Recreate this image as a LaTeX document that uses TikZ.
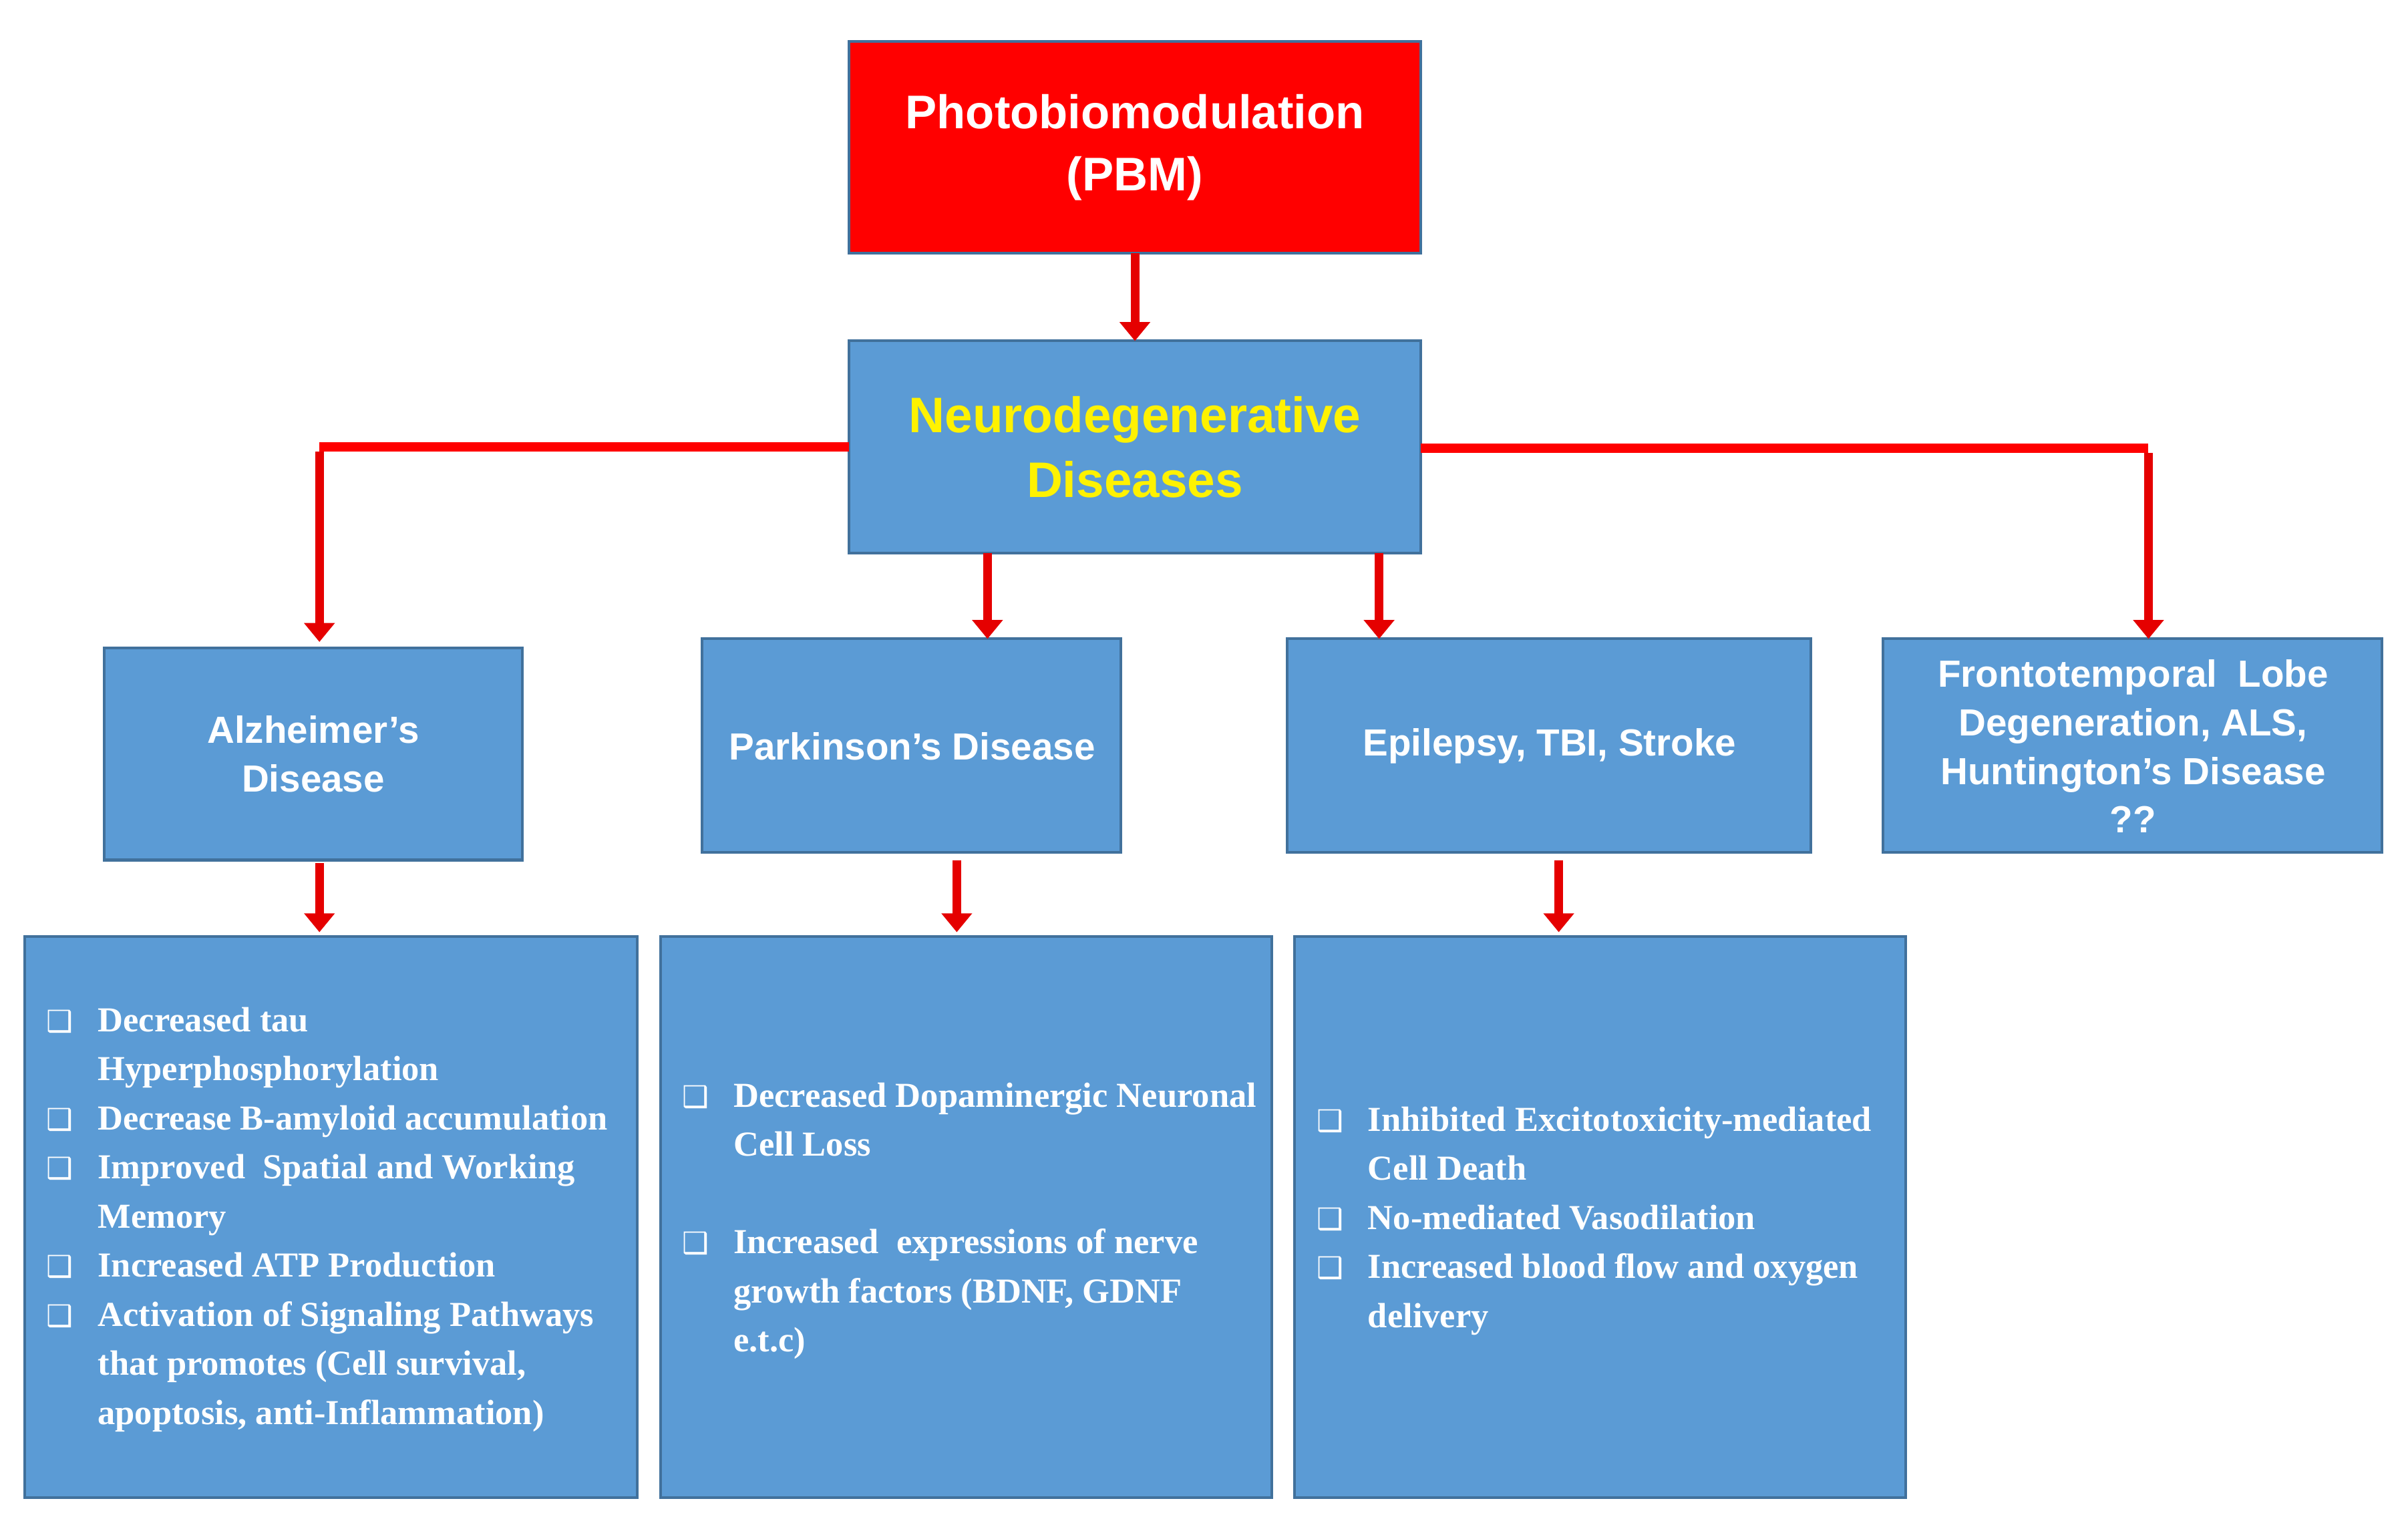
\documentclass[tikz,border=0pt]{standalone}
\usepackage{fontspec}
\setmainfont{Liberation Serif}
\newfontfamily\hd{Liberation Sans}
\newfontfamily\sym{DejaVu Sans}
\usetikzlibrary{arrows.meta}
\definecolor{bfill}{HTML}{5B9BD5}
\definecolor{bline}{HTML}{41719C}
\newcommand\itm[1]{\par\hangindent=19pt\hangafter=1\noindent\makebox[19pt][l]{{\sym\fontsize{11}{12}\selectfont ❑}}#1}
\tikzset{
 bx/.style={draw=bline,line width=1pt,fill=bfill},
 hd/.style={font=\hd\bfseries\fontsize{14}{18}\selectfont,text=white,align=center},
 body/.style={text=white,font=\bfseries\fontsize{13}{18.2}\selectfont,align=left,anchor=west,inner sep=0},
 ar/.style={red!90!black,line width=3.2pt,-{Triangle[length=7pt,width=11pt]}},
 ln/.style={red,line width=3.4pt}
}
\begin{document}
\begin{tikzpicture}[x=0.02cm,y=-0.02cm]
\useasboundingbox[fill=white] (0,0) rectangle (1568,989);
\draw[bx,fill=red] (553,27) rectangle (925,165);
\node[hd,font=\hd\bfseries\fontsize{17.5}{23}\selectfont] (pbm) at (739,96) {Photobiomodulation\\(PBM)};
\draw[bx] (553,222) rectangle (925,360);
\node[hd,text=yellow,font=\hd\bfseries\fontsize{18.5}{24}\selectfont] (nd) at (739,291) {Neurodegenerative\\Diseases};
\draw[bx] (68,422) rectangle (340,560);
\node[hd] (alz) at (204,491) {Alzheimer’s\\Disease};
\draw[bx] (457,416) rectangle (730,555);
\node[hd] (par) at (594,486) {Parkinson’s Disease};
\draw[bx] (838,416) rectangle (1179,555);
\node[hd] (epi) at (1009,486) {Epilepsy, TBI, Stroke};
\draw[bx] (1226,416) rectangle (1551,555);
\node[hd] (ftl) at (1389,486) {Frontotemporal\ \ Lobe\\Degeneration, ALS,\\Huntington’s Disease\\??};
\draw[bx] (16,610) rectangle (415,975);
\draw[bx] (430,610) rectangle (828,975);
\draw[bx] (843,610) rectangle (1241,975);
\node[body] (b1) at (30,794) {\begin{minipage}{400pt}
\itm{Decreased tau\\Hyperphosphorylation}
\itm{Decrease B-amyloid accumulation}
\itm{Improved\ \ Spatial and Working\\Memory}
\itm{Increased ATP Production}
\itm{Activation\ of Signaling Pathways\\that promotes\ (Cell survival,\\apoptosis, anti-Inflammation)}
\end{minipage}};
\node[body] (b2) at (444,795) {\begin{minipage}{400pt}
\itm{Decreased Dopaminergic Neuronal\\Cell Loss}
\par\vspace{18pt}
\itm{Increased\ \ expressions\ of nerve\\growth factors (BDNF, GDNF\\e.t.c)}
\end{minipage}};
\node[body] (b3) at (857,795) {\begin{minipage}{400pt}
\itm{Inhibited Excitotoxicity-mediated\\Cell Death}
\itm{No-mediated Vasodilation}
\itm{Increased\ blood flow and oxygen\\delivery}
\end{minipage}};
\coordinate (lc) at (208,291);
\coordinate (rc) at (1399,292);
\draw[ar] (739,165) -- (739,222);
\draw[ln] (553,291) -- (lc);
\draw[ar] ([yshift=-1.7pt]lc) -- (208,418);
\draw[ln] (925,292) -- (rc);
\draw[ar] ([yshift=-1.7pt]rc) -- (1399,416);
\draw[ar] (643,360) -- (643,416);
\draw[ar] (898,360) -- (898,416);
\draw[ar] (208,562) -- (208,607);
\draw[ar] (623,560) -- (623,607);
\draw[ar] (1015,560) -- (1015,607);
\end{tikzpicture}
\end{document}
